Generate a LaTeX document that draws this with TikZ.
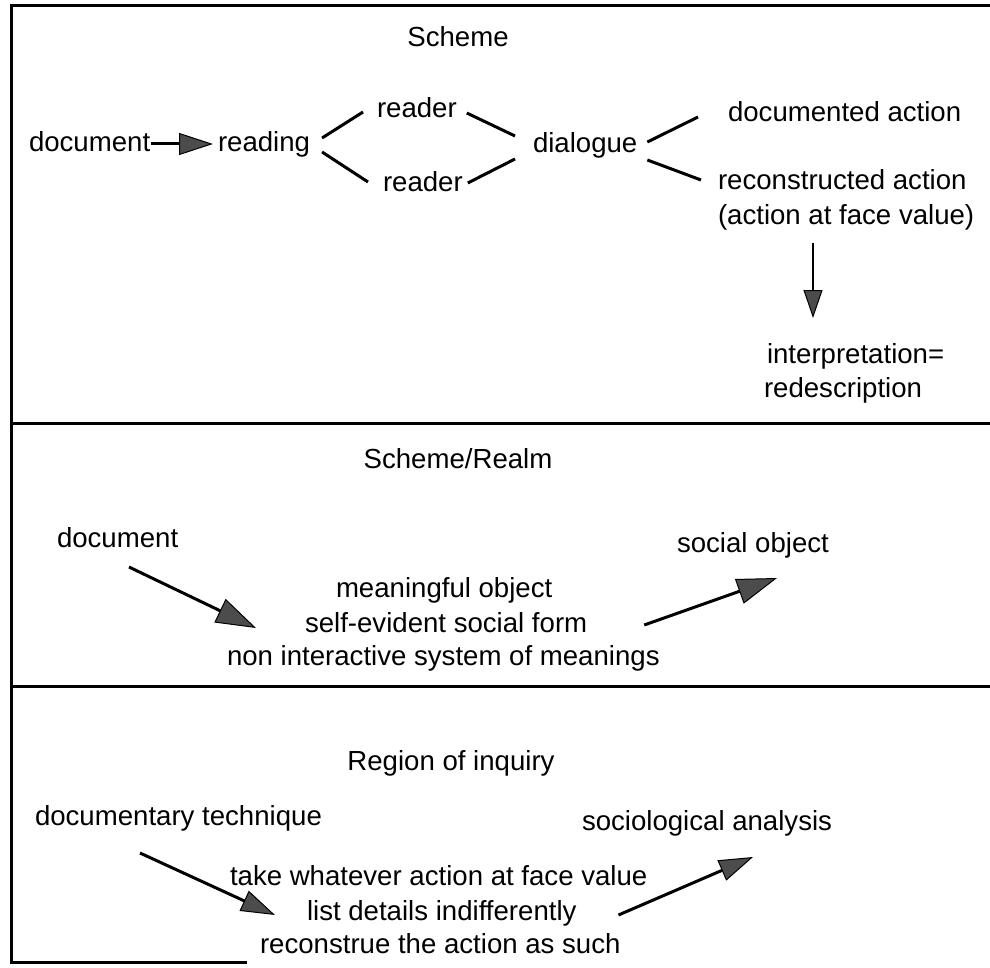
\documentclass[tikz,border=0pt]{standalone}
\usepackage{fontspec}
\setmainfont{Liberation Sans}
\usetikzlibrary{arrows.meta,calc}
\begin{document}
\begin{tikzpicture}[x=1pt,y=-1pt,
  lbl/.style={inner sep=0pt,outer sep=0pt,font=\fontsize{27.6}{33}\selectfont,anchor=base west},
  ttl/.style={lbl,anchor=base},
  frame/.style={line width=3pt,line cap=rect},
  conn/.style={line width=3pt},
  arr/.style={line width=3pt,-{Triangle[length=34pt,width=22pt,fill=black!70,line width=1pt]}},
  arrbig/.style={line width=3pt,-{Triangle[length=40pt,width=26pt,fill=black!70,line width=1pt]}},
  arrsmall/.style={line width=2.4pt,-{Triangle[length=28pt,width=19pt,fill=black!70,line width=1pt]}}]
\useasboundingbox (0,0) rectangle (990,968);
% frame
\draw[frame] (11,962) -- (11,6) -- (990,6);
\draw[frame] (11,423) -- (990,423);
\draw[frame] (11,686) -- (990,686);
\draw[frame] (11,962) -- (245,962);
% section 1
\node[ttl] (t1) at (458,47) {Scheme};
\node[lbl] (doc) at (29,152) {document};
\node[lbl] (reading) at (218,152) {reading};
\node[lbl] (rdA) at (377,118) {reader};
\node[lbl] (rdB) at (383,192) {reader};
\node[lbl] (dial) at (533,153) {dialogue};
\node[lbl] (docact) at (728,122) {documented action};
\node[lbl] (recon1) at (718,190) {reconstructed action};
\node[lbl] (recon2) at (718,225) {(action at face value)};
\node[lbl] (interp) at (767,363) {interpretation=};
\node[lbl] (redesc) at (764,397) {redescription};
\draw[arr] ([shift={(1,-8)}]doc.base east) -- ([shift={(-5,-8)}]reading.base west);
\draw[conn] ([shift={(12,-14)}]reading.base east) -- ([shift={(-14,-6)}]rdA.base west);
\draw[conn] ([shift={(12,0)}]reading.base east) -- ([shift={(-15,-10)}]rdB.base west);
\draw[conn] ([shift={(10,-5)}]rdA.base east) -- ([shift={(-18,-17)}]dial.base west);
\draw[conn] ([shift={(5,-9)}]rdB.base east) -- ([shift={(-18,6)}]dial.base west);
\draw[conn] ([shift={(10,-11)}]dial.base east) -- ([shift={(-30,-5)}]docact.base west);
\draw[conn] ([shift={(10,7)}]dial.base east) -- ([shift={(-17,-10)}]recon1.base west);
\draw[arrsmall] ([shift={(95,18)}]recon2.base west) -- ([shift={(46,-45)}]interp.base west);
% section 2
\node[ttl] (t2) at (458,468) {Scheme/Realm};
\node[lbl] (doc2) at (57,547) {document};
\node[lbl] (social) at (677,552) {social object};
\node[lbl] (mean) at (336,597) {meaningful object};
\node[lbl] (selfev) at (305,632) {self-evident social form};
\node[lbl] (nonint) at (227,665) {non interactive system of meanings};
\draw[arrbig] ([shift={(72,20)}]doc2.base west) -- ([shift={(-49,-4)}]selfev.base west);
\draw[arrbig] ([shift={(57,-7)}]selfev.base east) -- ([shift={(100,26)}]social.base west);
% section 3
\node[ttl] (t3) at (451,770) {Region of inquiry};
\node[lbl] (tech) at (35,825) {documentary technique};
\node[lbl] (socio) at (582,830) {sociological analysis};
\node[lbl] (take) at (230,885) {take whatever action at face value};
\node[lbl] (list) at (307,920) {list details indifferently};
\node[lbl] (recons) at (260,953) {reconstrue the action as such};
\draw[arr] ([shift={(105,28)}]tech.base west) -- ([shift={(-32,-5)}]list.base west);
\draw[arr] ([shift={(42,-5)}]list.base east) -- ([shift={(171,27)}]socio.base west);
\end{tikzpicture}
\end{document}
